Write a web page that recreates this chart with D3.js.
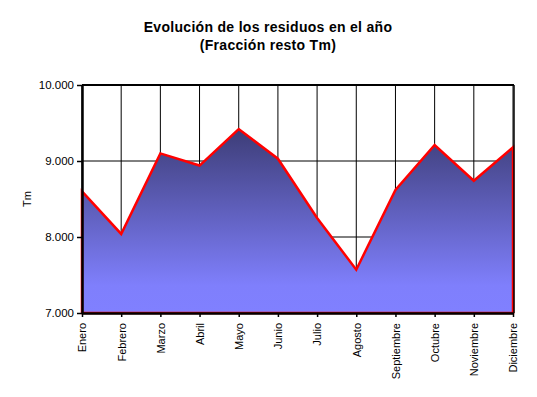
<!DOCTYPE html>
<html>
<head>
<meta charset="utf-8">
<script src="https://cdn.jsdelivr.net/npm/d3@7"></script>
<style>
  body { margin: 0; background: #fff; }
  svg { font-family: "Liberation Sans", Arial, sans-serif; display: block; }
</style>
</head>
<body>
<div id="chart"></div>
<script>
const width = 537;
const height = 397;
const margin = {left: 82, right: 24, top: 85, bottom: 84};

// data
const months = ['Enero','Febrero','Marzo','Abril','Mayo','Junio','Julio','Agosto','Septiembre','Octubre','Noviembre','Diciembre'];
const tonnes = [8.60, 8.04, 9.10, 8.94, 9.42, 9.03, 8.25, 7.57, 8.62, 9.21, 8.74, 9.18];
const yTicks = [7, 8, 9, 10];
const titleLines = ['Evolución de los residuos en el año', '(Fracción resto Tm)'];

const data = months.map((m, i) => ({month: m, value: tonnes[i]}));

const svg = d3.select('#chart')
  .append('svg')
  .attr('width', width)
  .attr('height', height);

const x = d3.scalePoint()
  .domain(months)
  .range([margin.left, width - margin.right]);

const y = d3.scaleLinear()
  .domain([7, 10])
  .range([height - margin.bottom, margin.top]);

// gradient for the area
const grad = svg.append('defs').append('linearGradient')
  .attr('id', 'areaGrad')
  .attr('gradientUnits', 'userSpaceOnUse')
  .attr('x1', 0).attr('x2', 0)
  .attr('y1', y(d3.max(tonnes))).attr('y2', y(7));
grad.append('stop').attr('offset', '0%').attr('stop-color', '#3d3d77');
grad.append('stop').attr('offset', '85%').attr('stop-color', '#7f7ffc');
grad.append('stop').attr('offset', '100%').attr('stop-color', '#8080ff');

// gridlines
svg.append('g')
  .selectAll('line')
  .data(months)
  .join('line')
  .attr('x1', d => x(d)).attr('x2', d => x(d))
  .attr('y1', y(10)).attr('y2', y(7))
  .attr('stroke', '#000').attr('stroke-width', 1);

svg.append('g')
  .selectAll('line')
  .data(yTicks)
  .join('line')
  .attr('x1', x.range()[0]).attr('x2', x.range()[1])
  .attr('y1', d => y(d)).attr('y2', d => y(d))
  .attr('stroke', '#000').attr('stroke-width', 1);

// area
const area = d3.area()
  .x(d => x(d.month))
  .y0(y(7))
  .y1(d => y(d.value));

svg.append('path')
  .datum(data)
  .attr('d', d => area(d) + 'Z')
  .attr('fill', 'url(#areaGrad)')
  .attr('stroke', '#ff0000')
  .attr('stroke-width', 2.5)
  .attr('stroke-linejoin', 'miter');

// plot frame (top/right)
svg.append('line')
  .attr('x1', x.range()[0]).attr('x2', x.range()[1] + 1)
  .attr('y1', y(10)).attr('y2', y(10))
  .attr('stroke', '#000').attr('stroke-width', 2);
svg.append('line')
  .attr('x1', x.range()[1] + 1).attr('x2', x.range()[1] + 1)
  .attr('y1', y(10)).attr('y2', y(7))
  .attr('stroke', '#000').attr('stroke-width', 1.5);

// y axis
const yAxis = d3.axisLeft(y)
  .tickValues(yTicks)
  .tickFormat(d3.format('.3f'))
  .tickSize(5)
  .tickSizeOuter(0);

const gy = svg.append('g')
  .attr('transform', 'translate(' + margin.left + ',0)')
  .call(yAxis);
gy.select('.domain').attr('stroke', '#000').attr('stroke-width', 2.5);
gy.selectAll('.tick line').attr('stroke-width', 1.5);
gy.selectAll('text')
  .attr('x', -8)
  .style('font-size', '11.5px')
  .attr('fill', '#000');

// x axis
const xAxis = d3.axisBottom(x)
  .tickSize(4)
  .tickSizeOuter(0);

const gx = svg.append('g')
  .attr('transform', 'translate(0,' + y(7) + ')')
  .call(xAxis);
gx.select('.domain').attr('stroke', '#000').attr('stroke-width', 2.5);
gx.selectAll('.tick line').attr('stroke-width', 1.5);
gx.selectAll('text')
  .style('font-size', '11px')
  .attr('fill', '#000')
  .attr('text-anchor', 'end')
  .attr('dy', '0.35em')
  .attr('transform', 'translate(0,10) rotate(-90)')
  .attr('x', 0)
  .attr('y', 0);

// axis title
svg.append('text')
  .attr('transform', 'translate(31,' + y(8.5) + ') rotate(-90)')
  .attr('text-anchor', 'middle')
  .style('font-size', '11px')
  .text('Tm');

// chart title
svg.append('g')
  .selectAll('text')
  .data(titleLines)
  .join('text')
  .attr('x', 268)
  .attr('y', (d, i) => 32 + i * 18)
  .attr('text-anchor', 'middle')
  .style('font-size', '14px')
  .style('font-weight', 'bold')
  .style('letter-spacing', '0.3px')
  .text(d => d);
</script>
</body>
</html>
